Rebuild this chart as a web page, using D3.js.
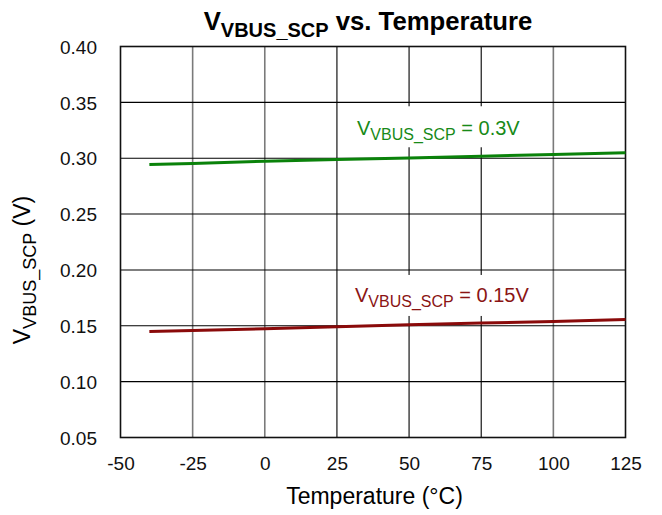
<!DOCTYPE html>
<html>
<head>
<meta charset="utf-8">
<script src="https://cdn.jsdelivr.net/npm/d3@7"></script>
<style>
  html, body { margin: 0; padding: 0; background: #fff; }
  svg { display: block; font-family: "Liberation Sans", Arial, Helvetica, sans-serif; }
</style>
</head>
<body>
<svg id="chart" width="662" height="515"></svg>
<script>
// ---- data ----
const temperatures = [-40, -25, 0, 25, 50, 75, 100, 125];
const vscp030 = [0.2943, 0.2953, 0.2973, 0.2988, 0.3003, 0.3018, 0.3033, 0.3048];
const vscp015 = [0.1449, 0.1458, 0.1473, 0.1491, 0.1509, 0.1524, 0.1538, 0.1556];
const xTicks = [-50, -25, 0, 25, 50, 75, 100, 125];
const yTicks = [0.05, 0.10, 0.15, 0.20, 0.25, 0.30, 0.35, 0.40];
const seriesLabels = ["= 0.3V", "= 0.15V"];

// ---- layout ----
const svg = d3.select("#chart");
const pLeft = 120.5, pRight = 625.5, pTop = 46.5, pBottom = 437.5;

const x = d3.scaleLinear().domain([-50, 125]).range([pLeft, pRight]);
const y = d3.scaleLinear().domain([0.05, 0.40]).range([pBottom, pTop]);

// background
svg.append("rect").attr("width", 662).attr("height", 515).attr("fill", "#fff");

// vertical grid lines
const greyV = new Set([-25, 0, 100]);
svg.append("g").selectAll("line")
  .data(xTicks.filter(d => d > -50 && d < 125))
  .join("line")
  .attr("x1", d => x(d)).attr("x2", d => x(d))
  .attr("y1", pTop).attr("y2", pBottom)
  .attr("stroke", d => greyV.has(d) ? "#7a7a7a" : "#000")
  .attr("stroke-width", d => greyV.has(d) ? 1.6 : 1.1);

// horizontal grid lines
svg.append("g").selectAll("line")
  .data(yTicks.filter(d => d > 0.05 && d < 0.40))
  .join("line")
  .attr("x1", pLeft).attr("x2", pRight)
  .attr("y1", d => y(d)).attr("y2", d => y(d))
  .attr("stroke", "#000")
  .attr("stroke-width", 1.1);

// white boxes behind series labels
svg.append("rect").attr("x", 350).attr("y", y(0.3465)).attr("width", 180).attr("height", 41).attr("fill", "#fff");
svg.append("rect").attr("x", 348).attr("y", y(0.1955)).attr("width", 186).attr("height", 41).attr("fill", "#fff");

// plot border
svg.append("rect")
  .attr("x", pLeft).attr("y", pTop)
  .attr("width", pRight - pLeft).attr("height", pBottom - pTop)
  .attr("fill", "none").attr("stroke", "#111").attr("stroke-width", 1.6);

// series lines
const line = d3.line().x(d => x(d[0])).y(d => y(d[1]));
svg.append("path")
  .datum(temperatures.map((t, i) => [t, vscp030[i]]))
  .attr("d", line).attr("fill", "none")
  .attr("stroke", "#0a820a").attr("stroke-width", 3);
svg.append("path")
  .datum(temperatures.map((t, i) => [t, vscp015[i]]))
  .attr("d", line).attr("fill", "none")
  .attr("stroke", "#8a0a0a").attr("stroke-width", 3);

// series labels
function seriesLabel(px, py, color, tail) {
  const t = svg.append("text").attr("x", px).attr("y", py)
    .attr("fill", color).attr("font-size", 20);
  t.append("tspan").text("V");
  t.append("tspan").attr("font-size", 16).attr("dy", 5).text("VBUS_SCP");
  t.append("tspan").attr("dy", -5).text(" " + tail);
}
seriesLabel(357, 135, "#188a18", seriesLabels[0]);
seriesLabel(355, 302, "#8a1414", seriesLabels[1]);

// axes (labels only)
const xAxis = d3.axisBottom(x).tickValues(xTicks).tickSize(0).tickPadding(0).tickFormat(d => String(d));
const gx = svg.append("g").attr("transform", `translate(0,${pBottom})`).call(xAxis);
gx.select(".domain").remove();
gx.selectAll("text").attr("font-size", 19).attr("fill", "#111")
  .attr("font-family", "Liberation Sans, Arial, sans-serif")
  .attr("dy", null).attr("y", 32);

const yAxis = d3.axisLeft(y).tickValues(yTicks).tickSize(0).tickPadding(0).tickFormat(d3.format(".2f"));
const gy = svg.append("g").attr("transform", `translate(97,0)`).call(yAxis);
gy.select(".domain").remove();
gy.selectAll("text").attr("font-size", 19).attr("fill", "#111")
  .attr("font-family", "Liberation Sans, Arial, sans-serif")
  .attr("x", 0).attr("dy", "0.35em");

// title
const title = svg.append("text").attr("x", 368).attr("y", 30)
  .attr("text-anchor", "middle").attr("font-weight", "bold").attr("font-size", 25.7).attr("fill", "#000");
title.append("tspan").text("V");
title.append("tspan").attr("font-size", 20).attr("dy", 7).text("VBUS_SCP");
title.append("tspan").attr("dy", -7).text(" vs. Temperature");

// x axis title
svg.append("text").attr("x", 374.5).attr("y", 504)
  .attr("text-anchor", "middle").attr("font-size", 23).attr("fill", "#000")
  .text("Temperature (°C)");

// y axis title
const yt = svg.append("text")
  .attr("transform", "translate(30,270) rotate(-90)")
  .attr("text-anchor", "middle").attr("font-size", 23).attr("fill", "#000");
yt.append("tspan").text("V");
yt.append("tspan").attr("font-size", 18).attr("dy", 6).text("VBUS_SCP");
yt.append("tspan").attr("dy", -6).text(" (V)");
</script>
</body>
</html>
